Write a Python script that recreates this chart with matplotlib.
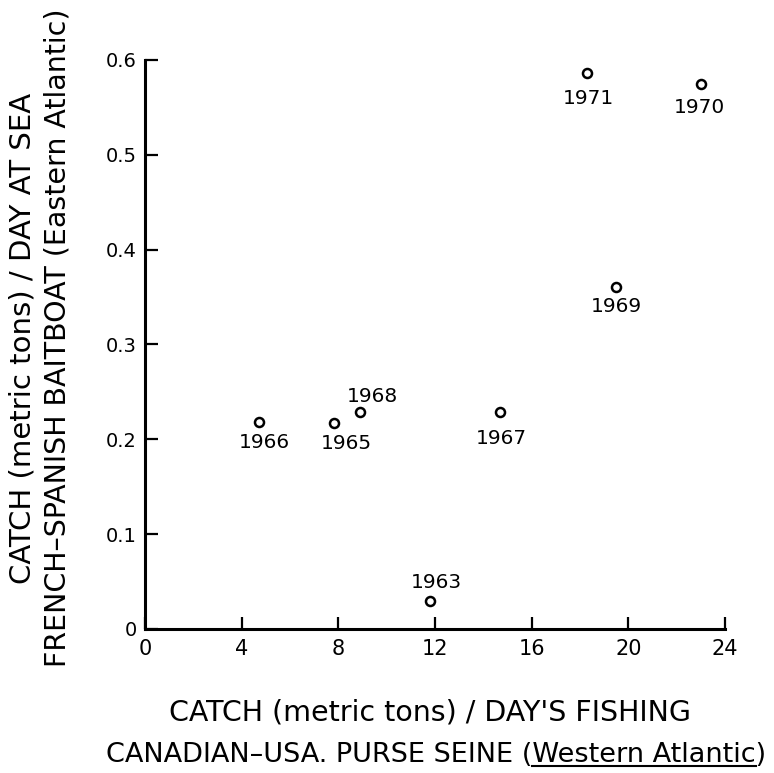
import matplotlib
matplotlib.use('Agg')
import matplotlib.pyplot as plt
import matplotlib.ticker as ticker
from matplotlib.lines import Line2D

plt.rcParams['font.family'] = 'DejaVu Sans'

# catch rates by season
years = ['1963', '1965', '1966', '1967', '1968', '1969', '1970', '1971']
purse_seine = [11.8, 7.8, 4.7, 14.7, 8.9, 19.5, 23.0, 18.3]   # t / day's fishing
baitboat = [0.029, 0.217, 0.218, 0.229, 0.229, 0.361, 0.575, 0.586]   # t / day at sea

x_ticks = [0, 4, 8, 12, 16, 20, 24]
y_ticks = [0.0, 0.1, 0.2, 0.3, 0.4, 0.5, 0.6]
y_tick_labels = ['0', '0.1', '0.2', '0.3', '0.4', '0.5', '0.6']

# where each year label sits relative to its point (pixels)
label_offsets = {'1963': (6, 19), '1965': (13, -20), '1966': (6, -20),
                 '1967': (1, -27), '1968': (12, 15), '1969': (0, -20),
                 '1970': (-1, -24), '1971': (1, -25)}

W, H = 774, 773
fig = plt.figure(figsize=(W / 100, H / 100), dpi=100)
ax = fig.add_axes([145 / W, 144 / H, 580 / W, 569 / H])

ax.plot(purse_seine, baitboat, ls='None', marker='o', ms=6.5, mfc='none',
        mec='black', mew=1.8, clip_on=False)

for yr, xx, yy in zip(years, purse_seine, baitboat):
    dx, dy = label_offsets[yr]
    ax.annotate(yr, xy=(xx, yy), xytext=(dx, dy), textcoords='offset pixels',
                ha='center', va='center', fontsize=14.5)

ax.set_xlim(0, 24)
ax.set_ylim(0, 0.6)
ax.xaxis.set_major_locator(ticker.FixedLocator(x_ticks))
ax.yaxis.set_major_locator(ticker.FixedLocator(y_ticks))
ax.set_yticklabels(y_tick_labels)

for side in ['top', 'right']:
    ax.spines[side].set_visible(False)
for side in ['left', 'bottom']:
    ax.spines[side].set_linewidth(2.2)

ax.tick_params(axis='both', direction='in', length=9, width=1.6, color='black')
ax.tick_params(axis='x', labelsize=15, pad=7)
ax.tick_params(axis='y', labelsize=14, pad=6)

# axis titles, two lines each
fig.text(23 / W, 1 - 338 / H, 'CATCH (metric tons) / DAY AT SEA',
         rotation=90, ha='center', va='center', fontsize=21)
fig.text(58 / W, 1 - 338 / H, 'FRENCH\u2013SPANISH BAITBOAT (Eastern Atlantic)',
         rotation=90, ha='center', va='center', fontsize=20.5)

fig.text(430 / W, 1 - 712 / H, "CATCH (metric tons) / DAY'S FISHING",
         ha='center', va='center', fontsize=20.5)
prefix = 'CANADIAN\u2013USA. PURSE SEINE ('
line2 = fig.text(436 / W, 1 - 755 / H, prefix + 'Western Atlantic)',
                 ha='center', va='center', fontsize=19.5)

# underline "Western Atlantic"
fig.canvas.draw()
renderer = fig.canvas.get_renderer()
bb = line2.get_window_extent(renderer)
tmp = fig.text(0, 0, prefix, fontsize=19.5)
pre0 = tmp.get_window_extent(renderer).width
tmp.remove()
tmp = fig.text(0, 0, ')', fontsize=19.5)
close_w = tmp.get_window_extent(renderer).width
tmp.remove()
x0 = bb.x0 + pre0
x1 = bb.x1 - close_w
y_ul = bb.y0 + 2
fig.add_artist(Line2D([x0 / W, x1 / W], [y_ul / H, y_ul / H], color='black',
                      lw=1.5, transform=fig.transFigure))

plt.savefig('out.png', dpi=100)
